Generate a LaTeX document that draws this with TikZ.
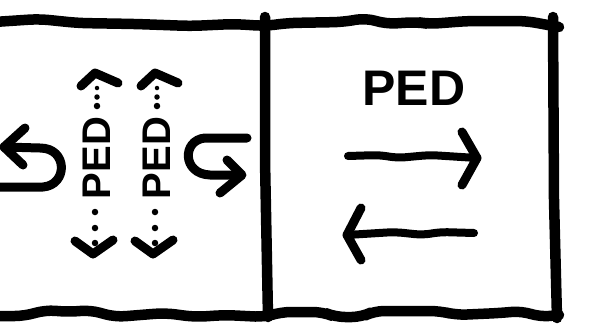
\documentclass[tikz,border=0pt]{standalone}
\usepackage{fontspec}
\setmainfont{Liberation Sans}
\tikzset{
  frame/.style={line width=10.5pt,line cap=round,line join=round},
  sketch/.style={line width=9pt,line cap=round,line join=round},
  shaft/.style={line width=8pt,line cap=round,line join=round},
  dotmark/.style={circle,fill=black,inner sep=0pt,minimum size=6.5pt},
  vlabel/.style={rotate=90,inner sep=0pt,font=\bfseries\fontsize{40}{40}\selectfont},
  hlabel/.style={inner sep=0pt,font=\bfseries\fontsize{50}{50}\selectfont}
}
\begin{document}
\begin{tikzpicture}[x=1pt,y=-1pt]
\useasboundingbox (0,0) rectangle (611,330);
\fill[white] (0,0) rectangle (611,330);
% frame
\coordinate (tl) at (-6,22);
\coordinate (tr) at (559,27);
\coordinate (bl) at (-6,316);
\coordinate (br) at (559,315);
\draw[frame,rounded corners=10pt] (tl) -- (39,19) -- (78,23) -- (136,24) -- (191,26) -- (234,24) -- (265,26) -- (288,23) -- (343,22) -- (366,18) -- (386,24) -- (417,22) -- (429,24) -- (468,21) -- (526,21) -- (tr);
\draw[frame,rounded corners=10pt] (bl) -- (25,316) -- (45,310) -- (70,312) -- (90,310) -- (115,317) -- (165,313) -- (195,317) -- (225,315) -- (265,317) -- (281,312) -- (323,312) -- (335,317) -- (362,317) -- (374,311) -- (440,311) -- (456,315) -- (500,313) -- (522,311) -- (540,317) -- (br);
\draw[frame] (265,17) -- (265,160) -- (268,317);
\draw[frame] (553,17) -- (554,200) -- (557,318);
% left lane, U-turn arrows
\coordinate (u1s) at (-6,187);
\coordinate (u1e) at (4,147);
\draw[sketch] (u1s) -- (43,187) .. controls (68,185) and (68,148) .. (40,148) -- (u1e);
\draw[sketch] (25,128) -- (4,147) -- (23,165);
\coordinate (u2s) at (247,138);
\coordinate (u2e) at (241,175);
\draw[sketch] (u2s) -- (205,138) .. controls (182,140) and (182,174) .. (210,175) -- (u2e);
\draw[sketch] (227,160) -- (242,175) -- (220,193);
% dotted PED arrows
\foreach \x/\n in {97/a,157/b}{
  \node[vlabel] (ped\n) at (\x,158) {PED};
  \node[dotmark,minimum size=4.5pt] at (\x,88) {};
  \node[dotmark,minimum size=5.5pt] at (\x,97) {};
  \node[dotmark] at (\x,106) {};
  \node[dotmark] at (\x-2,212) {};
  \node[dotmark] at (\x-2,228) {};
  \node[dotmark] at (\x-2,243) {};
  \draw[sketch] (\x-16,86) -- (\x-2,73) -- (\x+21,83);
  \draw[sketch] (\x-22,241) -- (\x-4,254) -- (\x+16,240);
}
% right lane
\node[hlabel] (pedr) at (414,88) {PED};
\coordinate (ra) at (477,158);
\coordinate (la) at (347,235);
\draw[shaft,rounded corners=8pt] (348,156) -- (380,155) -- (397,158) -- (430,155) -- (ra);
\draw[sketch] (462,132) -- (477,158) -- (462,185);
\draw[shaft,rounded corners=8pt] (474,233) -- (440,232) -- (423,235) -- (395,232) -- (la);
\draw[sketch] (361,208) -- (347,235) -- (361,260);
\end{tikzpicture}
\end{document}
